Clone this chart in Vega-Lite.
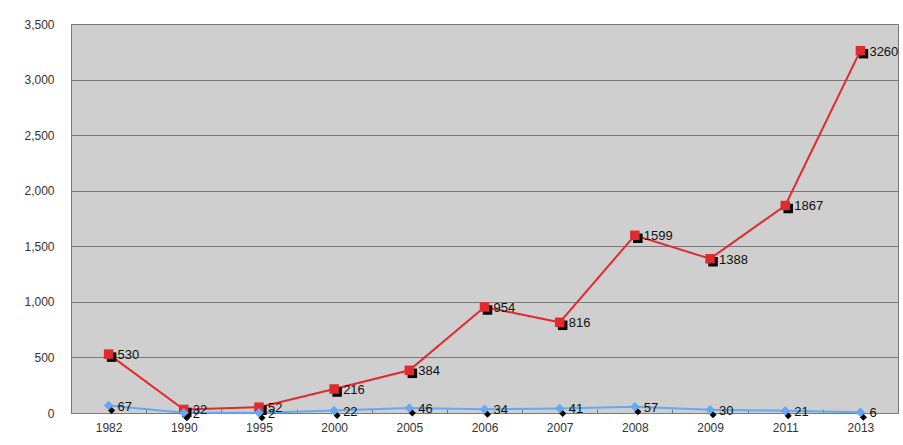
{
  "$schema": "https://vega.github.io/schema/vega-lite/v6.json",
  "width": 827,
  "height": 389,
  "autosize": {"type": "none"},
  "padding": {"left": 71, "top": 24, "right": 5, "bottom": 32},
  "background": "white",
  "config": {
    "view": {"fill": "#cfcfcf", "stroke": "#777777", "strokeWidth": 1},
    "font": "Liberation Sans"
  },
  "data": {
    "values": [
      {"year": "1982", "series": "A", "value": 530},
      {"year": "1990", "series": "A", "value": 32},
      {"year": "1995", "series": "A", "value": 52},
      {"year": "2000", "series": "A", "value": 216},
      {"year": "2005", "series": "A", "value": 384},
      {"year": "2006", "series": "A", "value": 954},
      {"year": "2007", "series": "A", "value": 816},
      {"year": "2008", "series": "A", "value": 1599},
      {"year": "2009", "series": "A", "value": 1388},
      {"year": "2011", "series": "A", "value": 1867},
      {"year": "2013", "series": "A", "value": 3260},
      {"year": "1982", "series": "B", "value": 67},
      {"year": "1990", "series": "B", "value": 2},
      {"year": "1995", "series": "B", "value": 2},
      {"year": "2000", "series": "B", "value": 22},
      {"year": "2005", "series": "B", "value": 46},
      {"year": "2006", "series": "B", "value": 34},
      {"year": "2007", "series": "B", "value": 41},
      {"year": "2008", "series": "B", "value": 57},
      {"year": "2009", "series": "B", "value": 30},
      {"year": "2011", "series": "B", "value": 21},
      {"year": "2013", "series": "B", "value": 6}
    ]
  },
  "encoding": {
    "x": {
      "field": "year", "type": "ordinal", "sort": null,
      "scale": {"type": "band", "paddingInner": 0, "paddingOuter": 0},
      "axis": {
        "title": null, "labelAngle": 0, "labelFontSize": 12, "labelColor": "#333333",
        "domain": false, "tickBand": "extent", "tickSize": -4, "tickColor": "#777777",
        "labelPadding": 13, "grid": false
      }
    },
    "y": {
      "field": "value", "type": "quantitative",
      "scale": {"domain": [0, 3500], "nice": false},
      "axis": {
        "title": null, "values": [0, 500, 1000, 1500, 2000, 2500, 3000, 3500],
        "format": ",d", "labelFontSize": 12, "labelColor": "#333333",
        "domain": false, "ticks": false, "labelPadding": 17,
        "grid": true, "gridColor": "#7a7a7a", "gridWidth": 1
      }
    }
  },
  "layer": [
    {
      "mark": {"type": "line", "strokeWidth": 2},
      "encoding": {
        "detail": {"field": "series"},
        "color": {"field": "series", "type": "nominal", "legend": null,
          "scale": {"domain": ["A", "B"], "range": ["#e02a2e", "#62aaf5"]}}
      }
    },
    {
      "transform": [{"filter": "datum.series == 'A'"}],
      "mark": {"type": "point", "shape": "square", "filled": true, "size": 90, "color": "#000000", "xOffset": 3, "yOffset": 3, "opacity": 1}
    },
    {
      "transform": [{"filter": "datum.series == 'A'"}],
      "mark": {"type": "point", "shape": "square", "filled": true, "size": 90, "color": "#e02a2e", "opacity": 1}
    },
    {
      "transform": [{"filter": "datum.series == 'B'"}],
      "mark": {"type": "point", "shape": "diamond", "filled": true, "size": 50, "color": "#000000", "xOffset": 3, "yOffset": 5, "opacity": 1}
    },
    {
      "transform": [{"filter": "datum.series == 'B'"}],
      "mark": {"type": "point", "shape": "diamond", "filled": true, "size": 90, "color": "#62aaf5", "opacity": 1}
    },
    {
      "mark": {"type": "text", "align": "left", "baseline": "middle", "dx": 9, "dy": 1, "fontSize": 13, "color": "#111111"},
      "encoding": {"text": {"field": "value", "type": "quantitative", "format": "d"}}
    }
  ]
}
